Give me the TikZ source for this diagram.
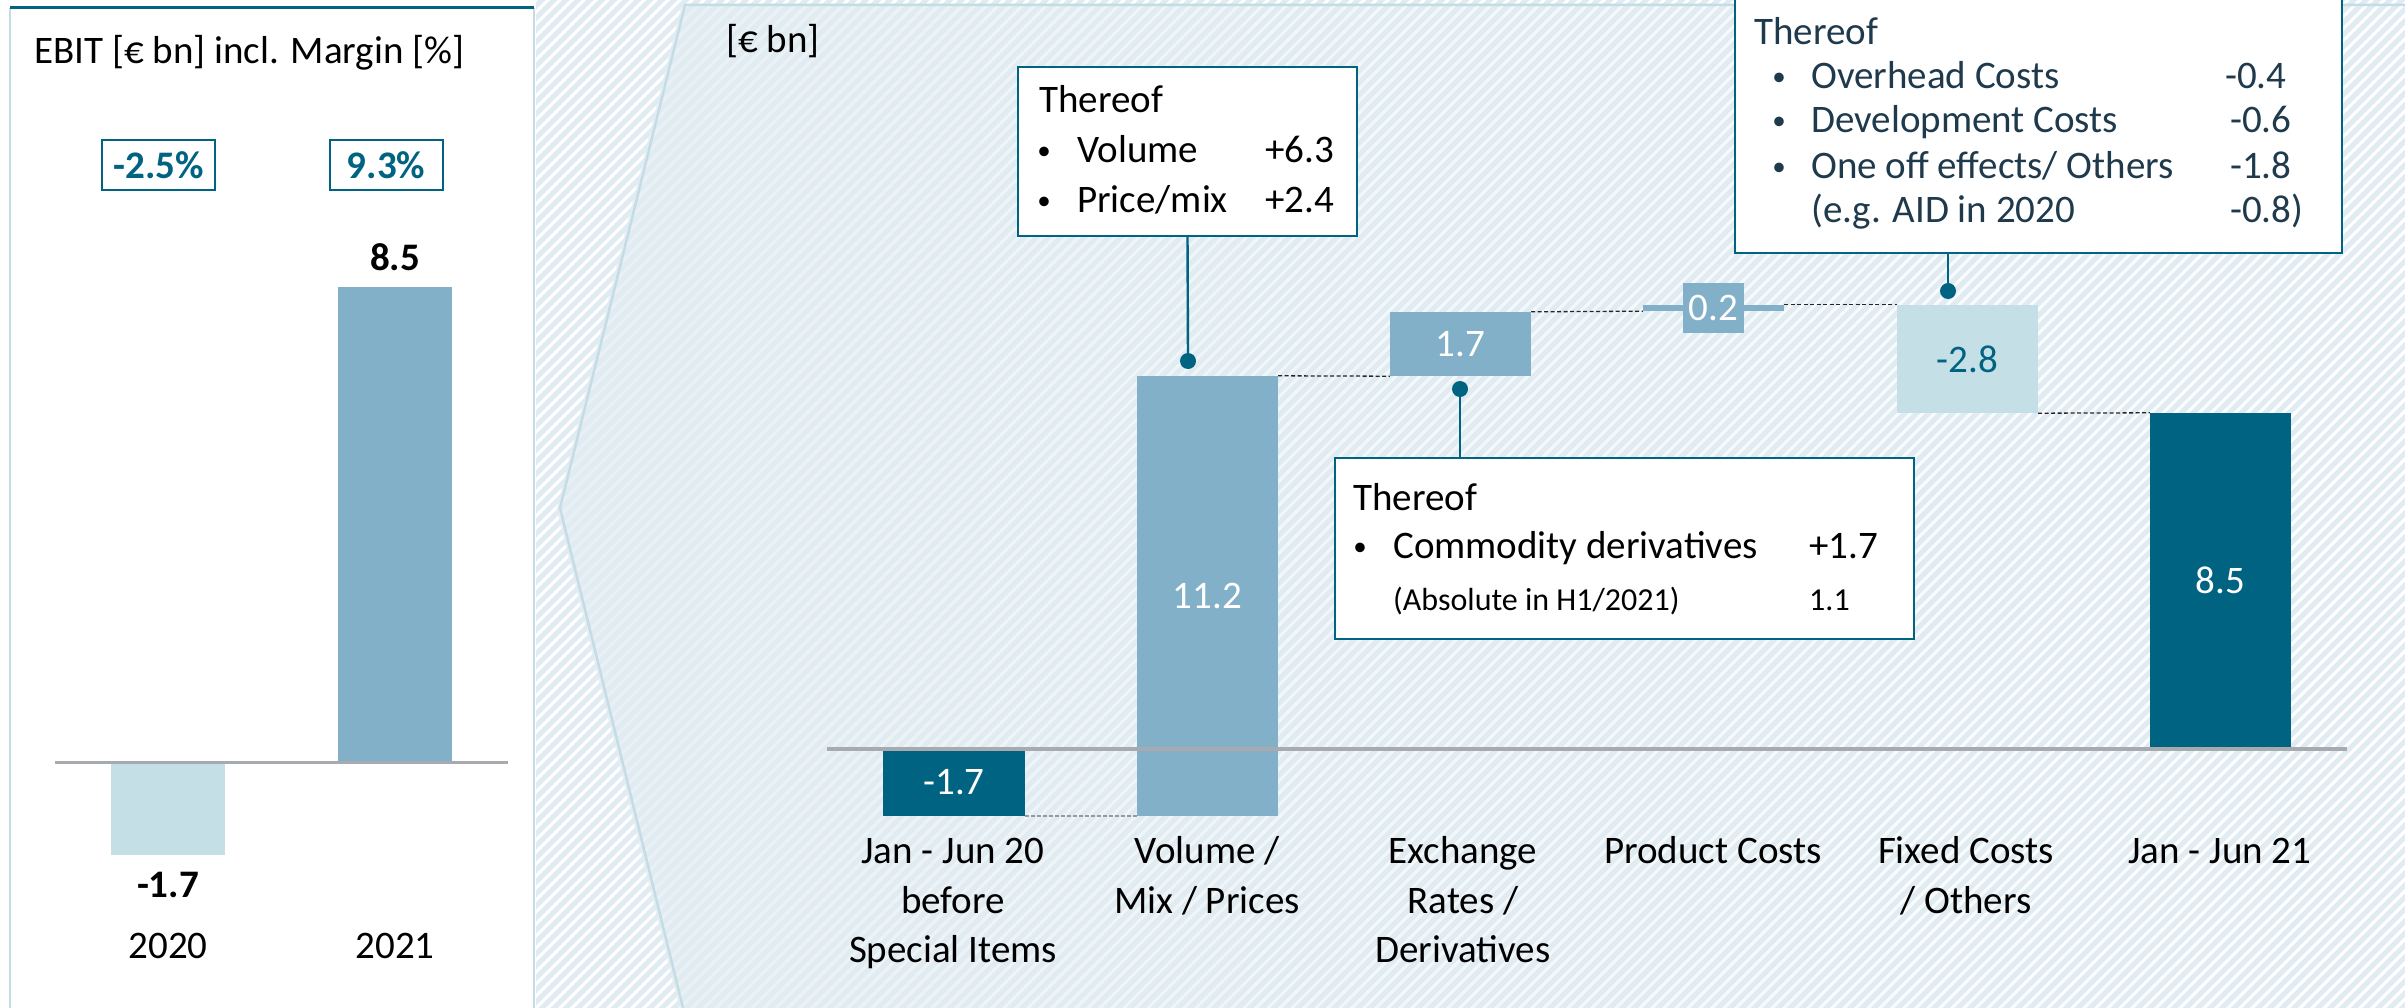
\documentclass[tikz,border=0pt]{standalone}
\usepackage{fontspec}
\setmainfont{Carlito}
\usetikzlibrary{fadings}
\definecolor{dteal}{RGB}{0,99,130}
\definecolor{mblue}{RGB}{129,176,200}
\definecolor{lblue}{RGB}{197,223,230}
\definecolor{axgray}{RGB}{167,171,176}
\definecolor{stripec}{RGB}{225,236,242}
\definecolor{chevc}{RGB}{226,236,242}
\definecolor{edgec}{RGB}{196,220,229}
\definecolor{slate}{RGB}{30,58,76}
\newcommand\fsN{\fontsize{39}{47}\selectfont}
\newcommand\fsS{\fontsize{32}{38}\selectfont}
\newcommand\mybul{{\fontsize{27}{27}\selectfont\raisebox{3pt}{•}}}
\tikzfading[name=chevfade, left color=transparent!0, right color=transparent!100]
\begin{document}
\begin{tikzpicture}[x=1pt,y=-1pt,
  bar/.style={rectangle, inner sep=0pt, draw=none, font=\fsN, text=white},
  tbox/.style={rectangle, draw=dteal, line width=2.4pt, fill=white, inner sep=0pt},
  mbox/.style={rectangle, draw=dteal, line width=2pt, fill=white, inner sep=0pt, font=\fsN\bfseries, text=dteal, minimum width=113pt, minimum height=50pt},
  t/.style={inner sep=0pt, anchor=base west, font=\fsN},
  ts/.style={inner sep=0pt, anchor=base west, font=\fsS},
  tc/.style={inner sep=0pt, anchor=base, font=\fsN},
  dot/.style={circle, fill=dteal, inner sep=0pt, minimum size=16pt},
  conn/.style={draw=dteal, line width=2.4pt},
  dsh/.style={draw=black!85, line width=1.3pt, dash pattern=on 4pt off 2.5pt},
  gdsh/.style={draw=axgray!90!black, line width=2.5pt, dash pattern=on 4pt off 2pt},
]
\useasboundingbox (0,0) rectangle (2405,1008);
\fill[white] (0,0) rectangle (2405,1008);
% stripes
\begin{scope}
\clip (536,0) rectangle (2405,1008);
\foreach \i in {0,...,245} {\draw[stripec, line width=5pt] ({-480+\i*12},1010) -- ++(1012,-1012);}
\end{scope}
% chevron
\fill[chevc, fill opacity=0.75, path fading=chevfade] (685,5) -- (2405,5) -- (2405,1008) -- (683,1008) -- (560,508) -- cycle;
\draw[edgec, line width=2.5pt] (2405,5) -- (685,5) -- (560,508) -- (683,1008);
% left panel
\draw[edgec, line width=2pt] (10,8) -- (10,1008);
\draw[edgec, line width=2pt] (534,8) -- (534,1008);
\draw[dteal, line width=3pt] (10,8) -- (534,8);
\node[t] (ttl) at (34,64) {EBIT [€ bn] incl. Margin [\%]};
\node[mbox] (m20) at (158.5,165) {-2.5\%};
\node[mbox] (m21) at (386,165) {9.3\%};
\node[bar, fill=lblue, minimum width=114pt, minimum height=93pt] (y20) at (168,808.5) {};
\node[bar, fill=mblue, minimum width=114pt, minimum height=474pt] (y21) at (395,524) {};
\draw[axgray, line width=3pt] (55,762) -- (508,762);
\node[tc, font=\fsN\bfseries] (v21) at (395,270) {8.5};
\node[tc, font=\fsN\bfseries] (v20) at (168,897) {-1.7};
\node[tc] (l20) at (168,958) {2020};
\node[tc] (l21) at (395,958) {2021};
% right panel
\node[t] (unit) at (726,53) {[€ bn]};
\node[bar, fill=dteal, minimum width=142pt, minimum height=67pt] (s) at (954,782.5) {-1.7};
\node[bar, fill=mblue, minimum width=141pt, minimum height=440pt] (vol) at (1207.5,596) {11.2};
\node[bar, fill=mblue, minimum width=141pt, minimum height=64pt] (fx) at (1460.5,344) {1.7};
\node[bar, fill=mblue, minimum width=141pt, minimum height=6pt] (pc) at (1713.5,308) {};
\node[bar, fill=mblue, minimum width=61pt, minimum height=50pt] (pcl) at (1713.5,308) {0.2};
\node[bar, fill=lblue, text=dteal, minimum width=141pt, minimum height=108pt] (fix) at (1967.5,359) {-2.8};
\node[bar, fill=dteal, minimum width=141pt, minimum height=334pt] (e) at (2220.5,580) {8.5};
\draw[axgray, line width=4pt] (827,749) -- (2347,749);
\draw[gdsh] (s.south east) -- (vol.south west);
\draw[dsh] (vol.north east) -- (fx.south west);
\draw[dsh] (fx.north east) -- (pc.south west);
\draw[dsh] (pc.north east) -- (fix.north west);
\draw[dsh] (fix.south east) -- (e.north west);
% boxes
\node[tbox, minimum width=339pt, minimum height=169pt] (bx1) at (1187.5,151.5) {};
\node[tbox, minimum width=579pt, minimum height=181pt] (bx2) at (1624.5,548.5) {};
\node[tbox, minimum width=607pt, minimum height=258pt] (bx3) at (2038.5,124) {};
\node[dot] (d1) at (1188,361) {};
\draw[conn] (bx1.south) -- (d1.center);
\node[dot] (d2) at (1460,389) {};
\draw[conn] (d2.center) -- (d2 |- bx2.north);
\node[dot] (d3) at (1948,291) {};
\draw[conn] (d3 |- bx3.south) -- (d3.center);
% box 1 text
\node[t] (b1h) at (1039,113) {Thereof};
\node[tc] (b1p1) at (1044,163) {\mybul};
\node[t] (b1a) at (1077,163) {Volume};
\node[t] (b1av) at (1265,163) {+6.3};
\node[tc] (b1p2) at (1044,213) {\mybul};
\node[t] (b1b) at (1077,213) {Price/mix};
\node[t] (b1bv) at (1265,213) {+2.4};
% box 2 text
\node[t] (b2h) at (1353,510) {Thereof};
\node[tc] (b2p) at (1360,558) {\mybul};
\node[t] (b2a) at (1393,558) {Commodity derivatives};
\node[t] (b2av) at (1809,558) {+1.7};
\node[ts] (b2b) at (1393,610) {(Absolute in H1/2021)};
\node[ts] (b2bv) at (1809,610) {1.1};
% box 3 text
\begin{scope}[every node/.append style={text=slate}]
\node[t] (b3h) at (1754,45) {Thereof};
\node[tc] (b3p1) at (1779,89) {\mybul};
\node[t] (b3a) at (1811,89) {Overhead Costs};
\node[t] (b3av) at (2225,89) {-0.4};
\node[tc] (b3p2) at (1779,133) {\mybul};
\node[t] (b3b) at (1811,133) {Development Costs};
\node[t] (b3bv) at (2230,133) {-0.6};
\node[tc] (b3p3) at (1779,179) {\mybul};
\node[t] (b3c) at (1811,179) {One off effects/ Others};
\node[t] (b3cv) at (2230,179) {-1.8};
\node[t] (b3d) at (1811,223) {(e.g. AID in 2020};
\node[t] (b3dv) at (2230,223) {-0.8)};
\end{scope}
% category labels
\node[tc] (c1a) at (953,863) {Jan - Jun 20};
\node[tc] (c1b) at (953,913) {before};
\node[tc] (c1c) at (953,962) {Special Items};
\node[tc] (c2a) at (1207,863) {Volume /};
\node[tc] (c2b) at (1207,913) {Mix / Prices};
\node[tc] (c3a) at (1463,863) {Exchange};
\node[tc] (c3b) at (1463,913) {Rates /};
\node[tc] (c3c) at (1463,962) {Derivatives};
\node[tc] (c4a) at (1713,863) {Product Costs};
\node[tc] (c5a) at (1966,863) {Fixed Costs};
\node[tc] (c5b) at (1966,913) {/ Others};
\node[tc] (c6a) at (2220,863) {Jan - Jun 21};
\end{tikzpicture}
\end{document}
